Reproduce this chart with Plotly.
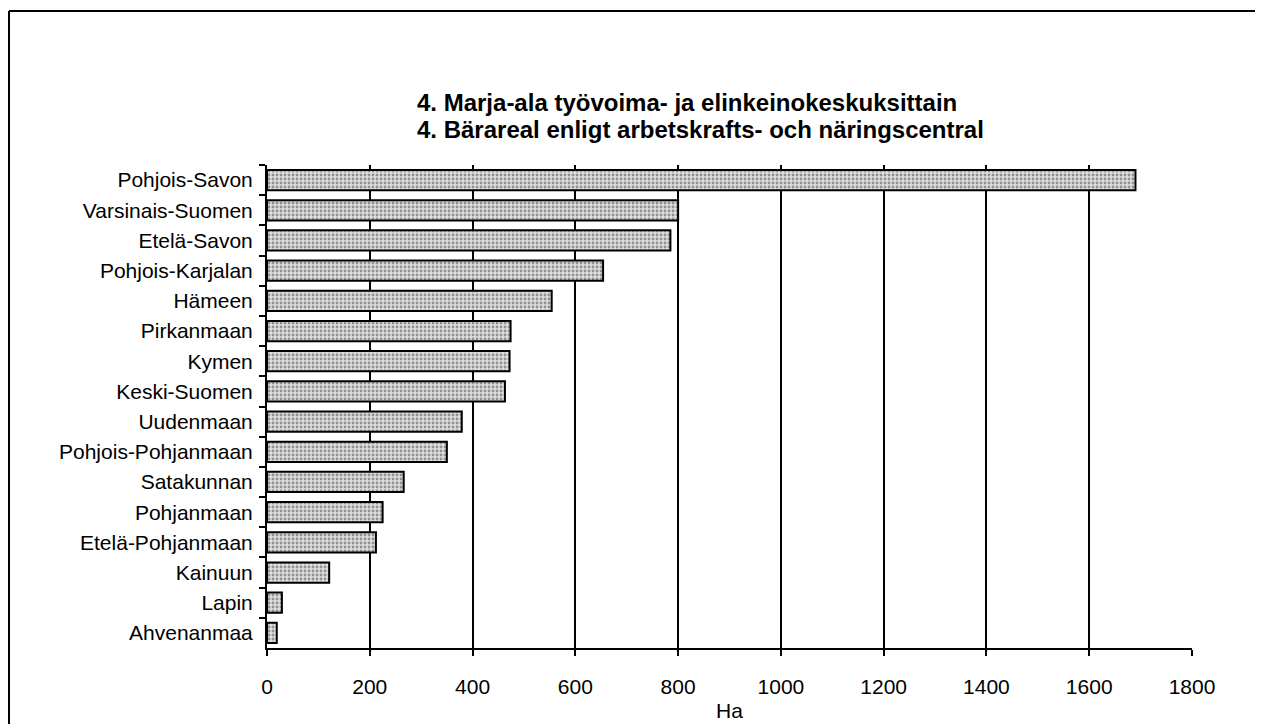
import plotly.graph_objects as go

categories = ["Pohjois-Savon", "Varsinais-Suomen", "Etelä-Savon", "Pohjois-Karjalan",
              "Hämeen", "Pirkanmaan", "Kymen", "Keski-Suomen", "Uudenmaan",
              "Pohjois-Pohjanmaan", "Satakunnan", "Pohjanmaan", "Etelä-Pohjanmaan",
              "Kainuun", "Lapin", "Ahvenanmaa"]
values = [1690, 800, 785, 654, 554, 474, 472, 463, 379, 350, 266, 225, 212, 121, 29, 19]
x_ticks = [0, 200, 400, 600, 800, 1000, 1200, 1400, 1600, 1800]
title_fi = "4. Marja-ala työvoima- ja elinkeinokeskuksittain"
title_sv = "4. Bärareal enligt arbetskrafts- och näringscentral"
x_title = "Ha"

O = 8  # page body margin
W, H = 1263 - O, 724 - O
L, R, T, B = 267 - O, 1192 - O, 165 - O, 648 - O


def px(x):
    return (x - O - L) / (R - L)


def py(y):
    return (B - (y - O)) / (B - T)


fig = go.Figure(go.Bar(
    y=categories, x=values, orientation="h",
    marker=dict(color="#cfcfcf", line=dict(color="black", width=2),
                pattern=dict(shape=".", fgcolor="#444444", bgcolor="#dedede",
                             size=4, solidity=0.4)),
    width=0.67,
))

font = "Liberation Sans, Arial, sans-serif"
fig.update_layout(
    width=W, height=H,
    margin=dict(l=L, r=W - R, t=T, b=H - B, autoexpand=False),
    paper_bgcolor="white", plot_bgcolor="white",
    showlegend=False,
    font=dict(family=font, size=21, color="black"),
    xaxis=dict(range=[0, 1800], tickvals=x_ticks, showgrid=True, gridcolor="black",
               gridwidth=1.5, showline=True, linecolor="black", linewidth=2,
               ticks="outside", ticklen=6, tickcolor="black", tickwidth=1.5,
               ticklabelstandoff=13, zeroline=False,
               title=dict(text=x_title, standoff=6, font=dict(size=21))),
    yaxis=dict(categoryorder="array", categoryarray=categories, autorange="reversed",
               showline=True, linecolor="black", linewidth=2, ticks="outside",
               tickson="boundaries", ticklen=6, tickcolor="black", tickwidth=1.5,
               ticklabelstandoff=8, showgrid=False),
    bargap=0.33,
)

fig.add_annotation(x=px(415), y=py(103), xref="paper", yref="paper", xanchor="left",
                   yanchor="middle", text="<b>" + title_fi + "</b>", showarrow=False,
                   font=dict(size=24, family=font))
fig.add_annotation(x=px(415), y=py(130), xref="paper", yref="paper", xanchor="left",
                   yanchor="middle", text="<b>" + title_sv + "</b>", showarrow=False,
                   font=dict(size=24, family=font))

# page frame (left and top edges)
fig.add_shape(type="line", xref="paper", yref="paper", x0=px(9), x1=px(9),
              y0=py(730), y1=py(11), line=dict(color="black", width=2))
fig.add_shape(type="line", xref="paper", yref="paper", x0=px(9), x1=px(1263),
              y0=py(11), y1=py(11), line=dict(color="black", width=2))

fig.write_html("out.html")
